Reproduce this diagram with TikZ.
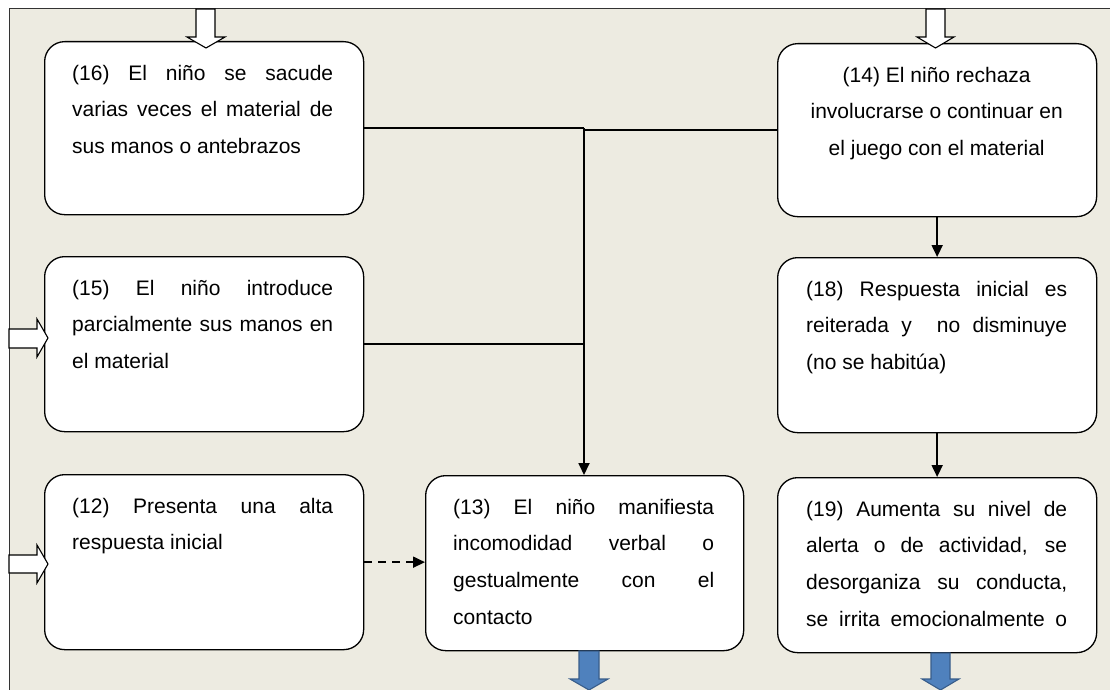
\documentclass[tikz,border=0pt]{standalone}
\usepackage{fontspec}
\setmainfont{Liberation Sans}
\usetikzlibrary{arrows.meta}
\definecolor{framebg}{RGB}{237,235,225}
\definecolor{blockblue}{HTML}{4F81BD}
\definecolor{blockblueedge}{HTML}{385D8A}
\newcommand{\J}[1]{\makebox[261pt][s]{\spaceskip=.278em plus 1fil\relax #1}}
\newcommand{\fst}{\rule{0pt}{16pt}\spaceskip=.278em\relax}
\begin{document}
\begin{tikzpicture}[x=1pt,y=-1pt,
  card/.style={draw=black, line width=1.3pt, fill=white, rounded corners=20pt,
    minimum width=319pt, minimum height=173pt, inner sep=0pt, anchor=north west},
  cardtext/.style={anchor=north west, inner sep=0pt, text width=261pt, align=left,
    font=\fontsize{21}{36.7}\selectfont},
  link/.style={line width=1.8pt, draw=black},
  linkarrow/.style={-{Triangle[length=12pt,width=11pt]}},
  hollow/.style={draw=black, line width=1.1pt, fill=white, line join=miter},
  bluearrow/.style={draw=blockblueedge, line width=1.1pt, fill=blockblue, line join=miter}]
\useasboundingbox (0,0) rectangle (1110,690);
\fill[white] (0,0) rectangle (1110,690);
\draw[fill=framebg, draw=black!80, line width=1pt] (9,9) rectangle (1120,700);

% boxes
\node[card] (b16) at (44,41) {};
\node[card] (b14) at (777,43) {};
\node[card, minimum height=175pt] (b15) at (44,256) {};
\node[card, minimum height=175pt] (b12) at (44,474) {};
\node[card, minimum width=318pt, minimum height=175pt] (b13) at (425,475) {};
\node[card, minimum height=175pt] (b18) at (777,257) {};
\node[card, minimum height=175pt] (b19) at (777,477) {};

% texts
\node[cardtext] (t16) at (72,64) {\noindent\fst\J{(16) El niño se sacude}\\\J{varias veces el material de}\\sus manos o antebrazos};
\node[cardtext, align=center] (t14) at (806,66) {\fst(14) El niño rechaza\\involucrarse o continuar en\\el juego con el material};
\node[cardtext] (t15) at (72,279) {\noindent\fst\J{(15) El niño introduce}\\\J{parcialmente sus manos en}\\el material};
\node[cardtext] (t12) at (72,497) {\noindent\fst\J{(12) Presenta una alta}\\respuesta inicial};
\node[cardtext] (t13) at (453,498) {\noindent\fst\J{(13) El niño manifiesta}\\\J{incomodidad verbal o}\\\J{gestualmente con el}\\contacto};
\node[cardtext] (t18) at (806,280) {\noindent\fst\J{(18) Respuesta inicial es}\\\J{reiterada y\ \ no disminuye}\\(no se habitúa)};
\node[cardtext] (t19) at (806,500) {\noindent\fst\J{(19) Aumenta su nivel de}\\\J{alerta o de actividad, se}\\\J{desorganiza su conducta,}\\\J{se irrita emocionalmente o}};

% connectors
\coordinate (jtop) at (584,127.5);
\draw[link] (b16.east) -- (b16.east -| jtop);
\draw[link] (b14.west) -- (b14.west -| jtop);
\draw[link] (b15.east) -- (b15.east -| jtop);
\draw[link, linkarrow] ([yshift=-0.9pt]jtop) -- (jtop |- b13.north);
\draw[link, linkarrow] (b14.south) -- (b18.north);
\draw[link, linkarrow] (b18.south) -- (b19.north);
\draw[line width=1.8pt, dash pattern=on 8pt off 6pt, linkarrow] (b12.east) -- (b12.east -| b13.west);

% hollow block arrows
\draw[hollow] (196,9) -- (196,37) -- (187,37) -- (206,48) -- (225,37) -- (215,37) -- (215,9) -- cycle;
\draw[hollow] (926,9) -- (926,37) -- (917,37) -- (935.5,48) -- (954,37) -- (945,37) -- (945,9) -- cycle;
\draw[hollow] (9,329) -- (37,329) -- (37,319) -- (48,338) -- (37,357) -- (37,348) -- (9,348) -- cycle;
\draw[hollow] (9,555) -- (37,555) -- (37,545) -- (48,564) -- (37,583) -- (37,573) -- (9,573) -- cycle;

% blue block arrows
\draw[bluearrow] (579,651) -- (579,679) -- (570,679) -- (589,690) -- (608,679) -- (599,679) -- (599,651) -- cycle;
\draw[bluearrow] (931,653) -- (931,679) -- (922,679) -- (940.5,690) -- (959,679) -- (950,679) -- (950,653) -- cycle;
\end{tikzpicture}
\end{document}
